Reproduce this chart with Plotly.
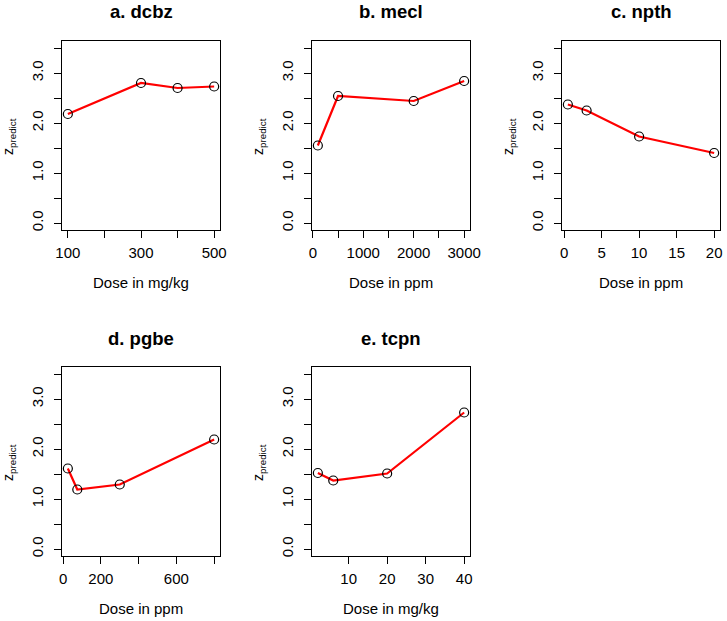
import plotly.graph_objects as go

W, H = 727, 621

# ---- data ----
titles = ["a. dcbz", "b. mecl", "c. npth", "d. pgbe", "e. tcpn"]
xlabels = ["Dose in mg/kg", "Dose in ppm", "Dose in ppm", "Dose in ppm", "Dose in mg/kg"]

a_dose = [100, 300, 400, 500]
a_z = [2.18, 2.80, 2.70, 2.73]
b_dose = [100, 500, 2000, 3000]
b_z = [1.55, 2.54, 2.44, 2.84]
c_dose = [0.5, 3, 10, 20]
c_z = [2.37, 2.25, 1.73, 1.40]
d_dose = [25, 75, 300, 800]
d_z = [1.61, 1.19, 1.29, 2.19]
e_dose = [2, 6, 20, 40]
e_z = [1.52, 1.37, 1.51, 2.73]

doses = [a_dose, b_dose, c_dose, d_dose, e_dose]
zs = [a_z, b_z, c_z, d_z, e_z]

# labelled ticks and unlabelled ticks on each x axis
x_major = [
    [100, 300, 500],
    [0, 1000, 2000, 3000],
    [0, 5, 10, 15, 20],
    [0, 200, 600],
    [10, 20, 30, 40],
]
x_minor = [
    [200, 400],
    [500, 1500, 2500],
    [],
    [400, 800],
    [],
]
y_major = [0, 1, 2, 3]
y_major_text = ["0.0", "1.0", "2.0", "3.0"]
y_minor = [0.5, 1.5, 2.5, 3.5]
y_lim = [0, 3.5]

# ---- layout geometry (pixels) ----
col_left = [62, 312, 562]
box_w = 158
row_top = [41, 367]
box_h = 189

FONT = "Liberation Sans, Arial, Helvetica, sans-serif"

def ext(lo, hi):
    d = (hi - lo) * 0.04
    return [lo - d, hi + d]

def minor_ticks(vals):
    return dict(tickmode="array", tickvals=vals, ticks="outside",
                ticklen=7, tickwidth=1, tickcolor="black", showgrid=False)

fig = go.Figure()
annotations = []
for i in range(5):
    r, c = divmod(i, 3)
    x0 = col_left[c]
    x1 = x0 + box_w
    yt = row_top[r]
    yb = yt + box_h
    k = "" if i == 0 else str(i + 1)
    xa = "x" + k
    ya = "y" + k

    fig.add_trace(go.Scatter(
        x=doses[i], y=zs[i], mode="lines",
        line=dict(color="#FF0000", width=2.2),
        xaxis=xa, yaxis=ya, showlegend=False, hoverinfo="skip"))
    fig.add_trace(go.Scatter(
        x=doses[i], y=zs[i], mode="markers",
        marker=dict(symbol="circle-open", size=9, color="black",
                    line=dict(width=1.2, color="black")),
        xaxis=xa, yaxis=ya, showlegend=False))

    common = dict(showgrid=False, zeroline=False, showline=True,
                  linecolor="black", linewidth=1, mirror=True,
                  ticks="outside", ticklen=7, tickwidth=1, tickcolor="black",
                  automargin=False,
                  tickfont=dict(family=FONT, size=15, color="black"))
    xaxis = dict(
        domain=[x0 / W, x1 / W], anchor=ya,
        range=ext(min(doses[i]), max(doses[i])),
        tickmode="array", tickvals=x_major[i],
        ticktext=[f"{v:g}" for v in x_major[i]],
        ticklabelstandoff=2, **common)
    if x_minor[i]:
        xaxis["minor"] = minor_ticks(x_minor[i])
    fig.layout["xaxis" + k] = xaxis
    fig.layout["yaxis" + k] = dict(
        domain=[1 - yb / H, 1 - yt / H], anchor=xa,
        range=ext(*y_lim),
        tickmode="array", tickvals=y_major, ticktext=y_major_text,
        minor=minor_ticks(y_minor),
        tickangle=-90, ticklabelstandoff=5, **common)

    cx = (x0 + x1) / 2
    annotations.append(dict(
        text="<b>" + titles[i] + "</b>", xref="paper", yref="paper",
        x=cx / W, y=1 - (yt - 29) / H, xanchor="center", yanchor="middle",
        showarrow=False, font=dict(family=FONT, size=18.5, color="black")))
    annotations.append(dict(
        text=xlabels[i], xref="paper", yref="paper",
        x=cx / W, y=1 - (yb + 52) / H, xanchor="center", yanchor="middle",
        showarrow=False, font=dict(family=FONT, size=15, color="black")))
    annotations.append(dict(
        text="z<sub>predict</sub>", xref="paper", yref="paper",
        x=(x0 - 53) / W, y=1 - (yt + 96) / H, xanchor="center", yanchor="middle",
        textangle=-90,
        showarrow=False, font=dict(family=FONT, size=14, color="black")))

fig.update_layout(
    template="none",
    width=W, height=H, margin=dict(l=0, r=0, t=0, b=0),
    paper_bgcolor="white", plot_bgcolor="white",
    annotations=annotations)

fig.write_html("out.html",
               config={"displayModeBar": False},
               post_script="document.body.style.margin='0';document.body.style.padding='0';")
